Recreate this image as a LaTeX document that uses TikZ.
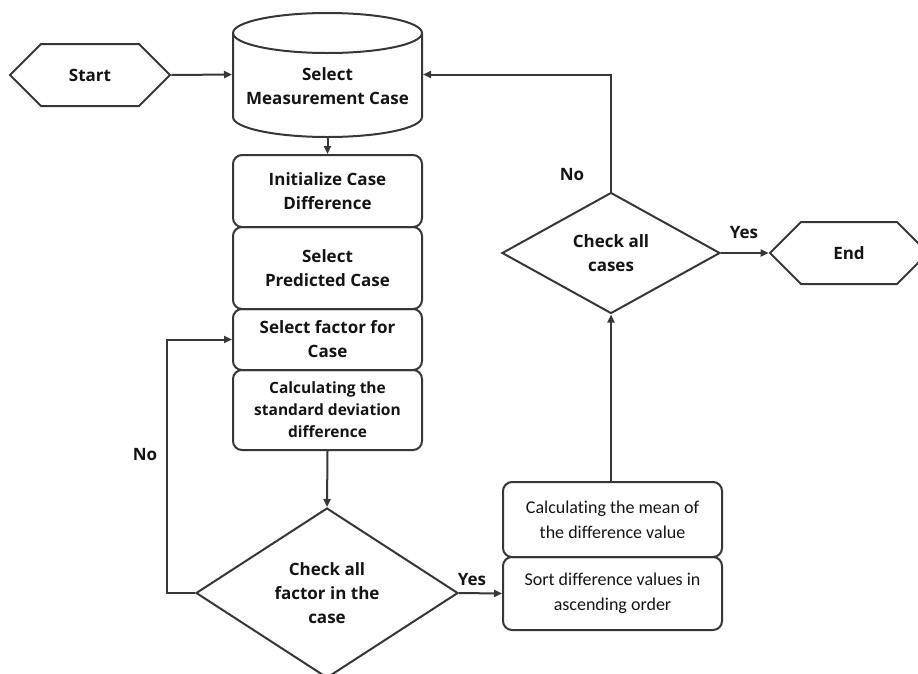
\documentclass[tikz,border=0pt]{standalone}
\usepackage{fontspec}
\setmainfont{Open Sans}
\newfontfamily\calfont{Carlito}[Ligatures=NoCommon]
\usetikzlibrary{shapes.geometric,shapes.symbols,arrows.meta}
\definecolor{lc}{RGB}{55,55,55}
\definecolor{tc}{RGB}{20,20,20}
\begin{document}
\begin{tikzpicture}[x=1pt,y=-1pt,
  line width=2pt,
  every node/.style={text=tc},
  bfont/.style={font=\bfseries\fontsize{17}{24}\selectfont},
  box/.style={draw=lc, rounded corners=9pt, minimum width=189pt, align=center, inner sep=0pt, bfont},
  rbox/.style={draw=lc, rounded corners=9pt, minimum width=219pt, align=center, inner sep=0pt, font=\calfont\fontsize{18}{25}\selectfont},
  hexa/.style={draw=lc, shape=signal, signal to=west and east, signal pointer angle=90, minimum height=62pt, inner sep=0pt, bfont},
  dia/.style={draw=lc, shape=diamond, inner sep=0pt, align=center, bfont},
  conn/.style={draw=lc, -{Triangle[length=8pt,width=7pt]}},
  lbl/.style={bfont}
]
\useasboundingbox (0,0) rectangle (918,673);
\clip (0,0) rectangle (918,673);

% start / end
\node[hexa, minimum width=160pt] (start) at (90,75) {Start};
\node[hexa, minimum width=158pt] (end) at (849,253) {End};

% cylinder
\draw[lc] (327.5,33) ellipse [x radius=94.5pt, y radius=20pt];
\draw[lc] (233,33) -- (233,117) .. controls (233,128) and (275.3,137) .. (327.5,137)
  .. controls (379.7,137) and (422,128) .. (422,117) -- (422,33);
\node[minimum width=189pt, minimum height=125pt, inner sep=0pt] (cyl) at (327.5,74.5) {};
\node[bfont, align=center] (cyltext) at (327.5,86.5) {Select\\Measurement Case};

% left column boxes
\node[box, minimum height=72pt] (b1) at (327.5,191) {Initialize Case\\Difference};
\node[box, minimum height=82pt] (b2) at (327.5,268) {Select\\Predicted Case};
\node[box, minimum height=61pt] (b3) at (327.5,339.5) {Select factor for\\Case};
\node[box, minimum height=80pt, font=\bfseries\fontsize{15.5}{22}\selectfont] (b4) at (327.5,410) {Calculating the\\standard deviation\\difference};

% diamonds
\node[dia, minimum width=262pt, minimum height=170pt, aspect=1.54] (d1) at (327,593) {Check all\\factor in the\\case};
\node[dia, minimum width=218pt, minimum height=121pt, aspect=1.8] (d2) at (611,253) {Check all\\cases};

% right boxes
\node[rbox, minimum height=75pt] (mean) at (612.5,519.5) {Calculating the mean of\\the difference value};
\node[rbox, minimum height=73pt] (sort) at (612.5,593.5) {Sort difference values in\\ascending order};

% connectors
\draw[conn] (start.east) -- (cyl.west);
\draw[conn] (cyl.south) -- (b1.north);
\draw[conn] (b4.south) -- (d1.north);
\draw[conn] (d1.west) -- ++(-28,0) |- (b3.west);
\draw[conn] (d1.east) -- (sort.west);
\draw[conn] (mean.north -| d2.south) -- (d2.south);
\draw[conn] (d2.north) |- (cyl.east);
\draw[conn] (d2.east) -- (end.west);

% labels
\node[lbl] (no1) at (145,455) {No};
\node[lbl] (yes1) at (472,580) {Yes};
\node[lbl] (no2) at (572,175) {No};
\node[lbl] (yes2) at (744,233) {Yes};
\end{tikzpicture}
\end{document}
